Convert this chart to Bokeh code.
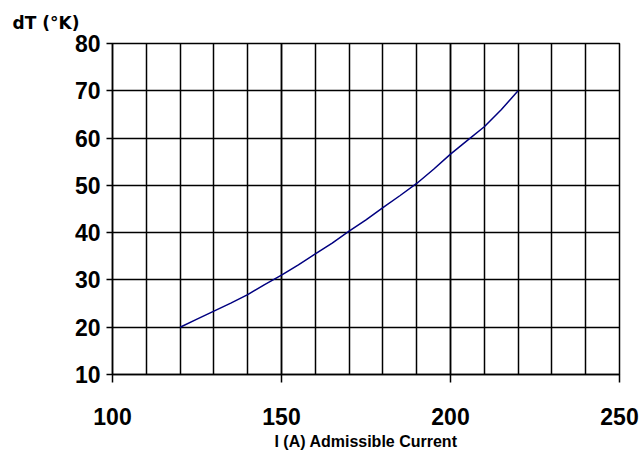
from bokeh.plotting import figure
from bokeh.models import Range1d, FixedTicker
from bokeh.embed import file_html
from bokeh.resources import INLINE

current_a = [120, 125, 130, 135, 140, 145, 150, 155, 160, 165, 170,
             175, 180, 185, 190, 195, 200, 205, 210, 215, 220]
dt_k = [20.0, 21.7, 23.4, 25.1, 26.9, 29.0, 31.0, 33.2, 35.5, 37.8, 40.3,
        42.7, 45.3, 47.8, 50.4, 53.4, 56.6, 59.5, 62.4, 66.0, 70.0]

x_major = [100, 150, 200, 250]
y_ticks = [10, 20, 30, 40, 50, 60, 70, 80]

p = figure(width=644, height=457, output_backend="svg", toolbar_location=None,
           x_range=Range1d(100, 250), y_range=Range1d(10, 80),
           min_border_left=112, min_border_right=25,
           min_border_top=12, min_border_bottom=83)

p.title.text = "dT (°K)"
p.title.text_font = "DejaVu Sans"
p.title.text_font_style = "bold"
p.title.text_font_size = "17px"
p.title.text_color = "black"
p.title.align = "left"
p.title.offset = -100
p.title.standoff = 21

p.line(current_a, dt_k, line_color="#000080", line_width=1.5)

p.xaxis.ticker = FixedTicker(ticks=x_major,
                             minor_ticks=list(range(100, 251, 10)))
p.yaxis.ticker = FixedTicker(ticks=y_ticks)

for ax in (p.xaxis, p.yaxis):
    ax.axis_line_color = "black"
    ax.axis_line_width = 1.5
    ax.major_tick_line_color = "black"
    ax.major_tick_line_width = 1.5
    ax.major_tick_in = 0
    ax.minor_tick_in = 0
    ax.minor_tick_out = 0
    ax.major_label_text_font = "Liberation Sans"
    ax.major_label_text_font_style = "bold"
    ax.major_label_text_font_size = "23px"
    ax.major_label_text_color = "black"

p.xaxis.major_tick_out = 8
p.yaxis.major_tick_out = 6
p.xaxis.major_label_standoff = 25
p.yaxis.major_label_standoff = 6

p.xaxis.axis_label = "I (A) Admissible Current"
p.xaxis.axis_label_text_font = "Liberation Sans"
p.xaxis.axis_label_text_font_style = "bold"
p.xaxis.axis_label_text_font_size = "16px"
p.xaxis.axis_label_text_color = "black"
p.xaxis.axis_label_standoff = 5

p.xgrid.grid_line_color = "black"
p.xgrid.grid_line_width = 1.5
p.xgrid.minor_grid_line_color = "black"
p.xgrid.minor_grid_line_width = 1.5
p.ygrid.grid_line_color = "black"
p.ygrid.grid_line_width = 1.5

p.outline_line_color = "black"
p.outline_line_width = 1.5

open("out.html", "w").write(file_html(p, INLINE))
